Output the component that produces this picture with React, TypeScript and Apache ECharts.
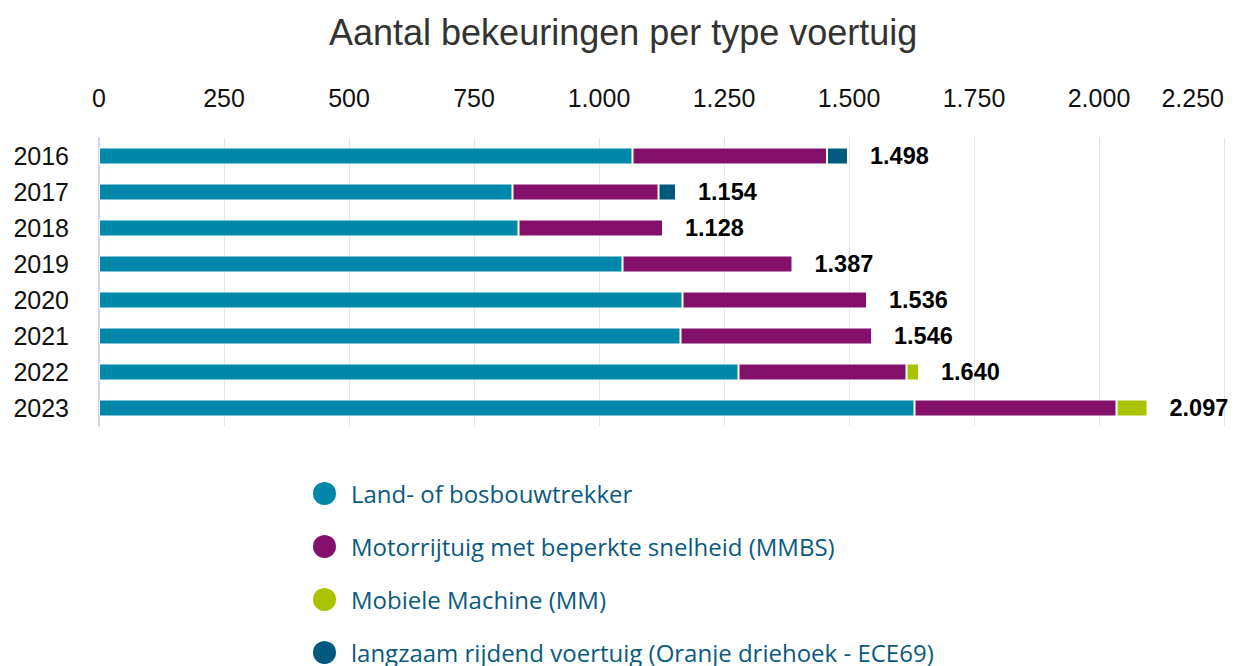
import React, { useEffect, useRef } from "react";
import * as echarts from "echarts";

const years = ["2016", "2017", "2018", "2019", "2020", "2021", "2022", "2023"];
const landBosbouw = [1067, 827, 839, 1047, 1167, 1163, 1279, 1631];
const mmbs = [389, 292, 289, 340, 369, 383, 336, 404];
const mobieleMachine = [0, 0, 0, 0, 0, 0, 25, 62];
const langzaam = [42, 35, 0, 0, 0, 0, 0, 0];
const totals = [1498, 1154, 1128, 1387, 1536, 1546, 1640, 2097];

const seriesNames = [
  "Land- of bosbouwtrekker",
  "Motorrijtuig met beperkte snelheid (MMBS)",
  "Mobiele Machine (MM)",
  "langzaam rijdend voertuig (Oranje driehoek - ECE69)",
];
const colors = ["#0087aa", "#83106a", "#a9c300", "#005a80"];

const fmt = (v: number) => String(Math.round(v)).replace(/\B(?=(\d{3})+(?!\d))/g, ".");

export default function App() {
  const ref = useRef<HTMLDivElement>(null);
  useEffect(() => {
    if (!ref.current) return;
    const chart = echarts.init(ref.current, null, { renderer: "svg" });
    const dataSets = [landBosbouw, mmbs, mobieleMachine, langzaam];
    const stacked = dataSets.map((d, i) => ({
      name: seriesNames[i],
      type: "bar",
      stack: "total",
      barWidth: 17,
      data: d.map((v) => (v === 0 ? null : v)),
      itemStyle: { color: colors[i], borderColor: "#ffffff", borderWidth: 1 },
      z: 3,
    }));
    const legendTops = [480, 533, 586, 639];
    chart.setOption({
      animation: false,
      color: colors,
      title: {
        text: "Aantal bekeuringen per type voertuig",
        left: 324,
        top: 9,
        textStyle: {
          fontFamily: "Liberation Sans, Arial, sans-serif",
          fontSize: 36,
          fontWeight: "normal",
          color: "#333333",
        },
      },
      legend: seriesNames.map((name, i) => ({
        orient: "vertical",
        left: 311,
        top: legendTops[i],
        padding: 0,
        icon: "circle",
        itemWidth: 25,
        itemHeight: 25,
        data: [name],
        textStyle: {
          fontFamily: "Open Sans, Noto Sans, sans-serif",
          fontSize: 24,
          color: "#0b5a7e",
          padding: [0, 0, 0, 9],
        },
      })),
      grid: { left: 99, right: 15, top: 138, height: 288, containLabel: false },
      xAxis: {
        type: "value",
        position: "top",
        min: 0,
        max: 2250,
        interval: 250,
        axisLine: { show: false },
        axisTick: { show: false },
        splitLine: { show: true, lineStyle: { color: "#e6e6e6", width: 1 } },
        axisLabel: {
          fontFamily: "Liberation Sans, Arial, sans-serif",
          fontSize: 25,
          color: "#111111",
          margin: 28,
          formatter: (v: number) => fmt(v),
          alignMaxLabel: "right",
        },
      },
      yAxis: {
        type: "category",
        data: years,
        inverse: true,
        axisTick: { show: false },
        axisLine: { show: true, lineStyle: { color: "#ccd6eb", width: 2 } },
        axisLabel: {
          fontFamily: "Liberation Sans, Arial, sans-serif",
          fontSize: 25,
          color: "#111111",
          margin: 30,
        },
      },
      series: [
        ...stacked,
        {
          name: "Totaal",
          type: "bar",
          barWidth: 17,
          barGap: "-100%",
          data: totals,
          itemStyle: { color: "rgba(0,0,0,0)" },
          z: 1,
          silent: true,
          label: {
            show: true,
            position: "right",
            distance: 22,
            formatter: (p: any) => fmt(p.value),
            fontFamily: "Liberation Sans, Arial, sans-serif",
            fontSize: 23.5,
            fontWeight: "bold",
            color: "#000000",
          },
        },
      ],
    });
    return () => chart.dispose();
  }, []);
  return (
    <div
      ref={ref}
      style={{ position: "fixed", left: 0, top: 0, width: 1239, height: 666, background: "#ffffff" }}
    />
  );
}
